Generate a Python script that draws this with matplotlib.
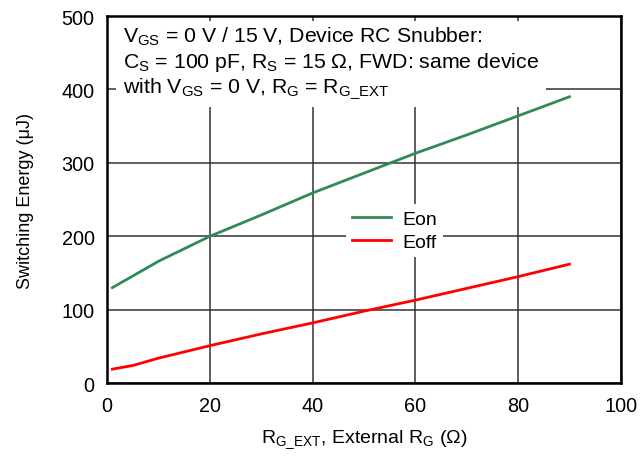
import numpy as np
import matplotlib
matplotlib.use("Agg")
import matplotlib.pyplot as plt

plt.rcParams['font.family'] = ['Liberation Sans', 'DejaVu Sans']
plt.rcParams['mathtext.fontset'] = 'custom'
plt.rcParams['mathtext.rm'] = 'Liberation Sans'
plt.rcParams['mathtext.it'] = 'Liberation Sans'

# gate resistance (ohm) and switching energy (uJ)
rg_on = [1, 5, 10, 20, 30, 40, 50, 60, 70, 80, 90]
eon = [130, 146, 166, 200, 229, 259, 286, 313, 338, 364, 390]
rg_off = [1, 5, 10, 20, 30, 40, 50, 60, 70, 80, 90]
eoff = [19, 24, 34, 51, 67, 82, 98, 113, 129, 145, 162]

xticks = [0, 20, 40, 60, 80, 100]
yticks = [0, 100, 200, 300, 400, 500]

fig = plt.figure(figsize=(6.42, 4.60), dpi=100)
ax = fig.add_axes([0.167, 0.165, 0.800, 0.798])

ax.plot(rg_on, eon, color='#2e8b57', lw=2, label='Eon', zorder=6)
ax.plot(rg_off, eoff, color='red', lw=2, label='Eoff', zorder=6)

ax.set_xlim(0, 100)
ax.set_ylim(0, 500)
ax.set_xticks(xticks)
ax.set_yticks(yticks)
ax.grid(True, color='#333333', lw=1.1)
ax.tick_params(length=0, labelsize=14.3, pad=9)
for s in ax.spines.values():
    s.set_linewidth(1.8)

ax.set_xlabel(r'R$_\mathregular{G\_EXT}$, External R$_\mathregular{G}$ (Ω)', fontsize=14, labelpad=9)
ax.set_ylabel('Switching Energy (μJ)', fontsize=13, labelpad=20)

note = ('V$_\\mathregular{GS}$ = 0 V / 15 V, Device RC Snubber:\n'
        'C$_\\mathregular{S}$ = 100 pF, R$_\\mathregular{S}$ = 15 Ω, FWD: same device\n'
        'with V$_\\mathregular{GS}$ = 0 V, R$_\\mathregular{G}$ = R$_\\mathregular{G\\_EXT}$')
ax.text(0.031, 0.975, note, transform=ax.transAxes, fontsize=15.3, va='top', ha='left',
        linespacing=1.15, zorder=4,
        bbox=dict(facecolor='white', edgecolor='none', pad=5))

leg = ax.legend(loc='center', bbox_to_anchor=(0.56, 0.415), frameon=True, fontsize=14,
                handlelength=2.0, borderpad=0.3, labelspacing=0.3, handletextpad=0.6)
leg.get_frame().set_edgecolor('none')
leg.get_frame().set_facecolor('white')
leg.get_frame().set_alpha(1)
leg.set_zorder(5)

fig.savefig('out.png', dpi=100)
